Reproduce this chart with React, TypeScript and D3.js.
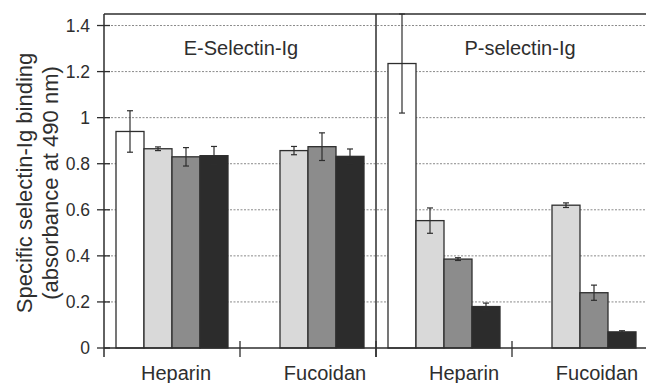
import React from "react";
import * as d3 from "d3";

const panels = ["E-Selectin-Ig", "P-selectin-Ig"];
const categories = ["Heparin", "Fucoidan", "Heparin", "Fucoidan"];
const seriesKeys = ["s1", "s2", "s3", "s4"];
const s1Values = [0.94, null, 1.235, null];
const s2Values = [0.865, 0.857, 0.553, 0.62];
const s3Values = [0.83, 0.874, 0.386, 0.24];
const s4Values = [0.835, 0.832, 0.18, 0.07];
const s1Err = [0.09, null, 0.215, null];
const s2Err = [0.008, 0.018, 0.055, 0.01];
const s3Err = [0.04, 0.06, 0.006, 0.033];
const s4Err = [0.04, 0.032, 0.015, 0.005];
const yTicks = [0, 0.2, 0.4, 0.6, 0.8, 1, 1.2, 1.4];
const yLabel1 = "Specific selectin-Ig binding";
const yLabel2 = "(absorbance at 490 nm)";

const W = 646;
const H = 383;
const FONT = "'Liberation Sans', Arial, Helvetica, sans-serif";
const INK = "#2e2e2e";
const fills = ["#ffffff", "#d9d9d9", "#8c8c8c", "#2c2c2c"];
const labelDx = [4, 17, 20, 17];

export default function App() {
  const values = [s1Values, s2Values, s3Values, s4Values];
  const errs = [s1Err, s2Err, s3Err, s4Err];
  const catIdx = categories.map((_, i) => i);

  const x = d3.scaleBand<number>().domain(catIdx).range([104, 648]).padding(0);
  const xInner = d3
    .scaleBand<string>()
    .domain(seriesKeys)
    .range([12, x.bandwidth() - 12])
    .padding(0);
  const y = d3.scaleLinear().domain([0, 1.45]).range([348, 14]);

  const x0 = 104;
  const xRight = 646;
  const yTop = y(1.45);
  const yBase = y(0);
  const divX = x(2)!;

  const bars: React.ReactNode[] = [];
  const errBars: React.ReactNode[] = [];
  values.forEach((arr, si) => {
    arr.forEach((v, ci) => {
      if (v == null) return;
      const bx = x(ci)! + xInner(seriesKeys[si])!;
      const bw = xInner.bandwidth();
      bars.push(
        <rect
          key={`b${si}-${ci}`}
          x={bx}
          y={y(v)}
          width={bw}
          height={yBase - y(v)}
          fill={fills[si]}
          stroke={INK}
          strokeWidth={1.3}
        />
      );
      const e = errs[si][ci];
      if (e != null) {
        const cx = bx + bw / 2;
        const t = y(Math.min(v + e, 1.45));
        const b = y(v - e);
        errBars.push(
          <g key={`e${si}-${ci}`} stroke={INK} strokeWidth={1.2}>
            <line x1={cx} x2={cx} y1={t} y2={b} />
            <line x1={cx - 3} x2={cx + 3} y1={t} y2={t} />
            <line x1={cx - 3} x2={cx + 3} y1={b} y2={b} />
          </g>
        );
      }
    });
  });

  return (
    <svg
      width={W}
      height={H}
      style={{ position: "absolute", left: 0, top: 0, background: "#fff" }}
      fontFamily={FONT}
    >
      <defs>
        <pattern id="pLight" width="3" height="3" patternUnits="userSpaceOnUse">
          <rect width="3" height="3" fill="#e2e2e2" />
          <rect width="1" height="1" fill="#b8b8b8" />
        </pattern>
        <pattern id="pMid" width="2" height="2" patternUnits="userSpaceOnUse">
          <rect width="2" height="2" fill="#9a9a9a" />
          <rect width="1" height="1" fill="#6e6e6e" />
          <rect x="1" y="1" width="1" height="1" fill="#6e6e6e" />
        </pattern>
      </defs>
      {/* gridlines */}
      {yTicks
        .filter((t) => t > 0)
        .map((t) => (
          <line
            key={`g${t}`}
            x1={x0}
            x2={xRight}
            y1={y(t)}
            y2={y(t)}
            stroke="#8a8a8a"
            strokeWidth={1}
            strokeDasharray="2,1.5"
          />
        ))}
      {/* frame top & divider */}
      <line x1={x0} x2={xRight} y1={yTop} y2={yTop} stroke={INK} strokeWidth={1.5} />
      <line x1={divX} x2={divX} y1={yTop} y2={yBase + 9} stroke={INK} strokeWidth={1.5} />
      {/* bars */}
      {bars}
      {errBars}
      {/* axes */}
      <line x1={x0} x2={x0} y1={yTop} y2={yBase + 9} stroke={INK} strokeWidth={1.5} />
      <line x1={x0} x2={xRight} y1={yBase} y2={yBase} stroke={INK} strokeWidth={1.5} />
      {catIdx.slice(1).map((ci) => (
        <line
          key={`xt${ci}`}
          x1={x(ci)!}
          x2={x(ci)!}
          y1={yBase - 7}
          y2={yBase + 9}
          stroke={INK}
          strokeWidth={1.3}
        />
      ))}
      {yTicks.map((t) => (
        <g key={`yt${t}`}>
          <line x1={x0 - 7} x2={x0 + 6} y1={y(t)} y2={y(t)} stroke={INK} strokeWidth={1.3} />
          <text
            x={90}
            y={y(t)}
            dy="0.35em"
            textAnchor="end"
            fontSize={17.5}
            fill={INK}
          >
            {String(t)}
          </text>
        </g>
      ))}
      {/* category labels */}
      {categories.map((c, ci) => (
        <text
          key={`cl${ci}`}
          x={x(ci)! + x.bandwidth() / 2 + labelDx[ci]}
          y={380}
          textAnchor="middle"
          fontSize={20}
          fill={INK}
        >
          {c}
        </text>
      ))}
      {/* panel titles */}
      {panels.map((p, pi) => (
        <text
          key={`pt${pi}`}
          x={pi === 0 ? 241 : 520}
          y={55}
          textAnchor="middle"
          fontSize={20}
          fill={INK}
        >
          {p}
        </text>
      ))}
      {/* y label */}
      <text
        transform="translate(32,183) rotate(-90)"
        textAnchor="middle"
        fontSize={22}
        fill={INK}
      >
        {yLabel1}
      </text>
      <text
        transform="translate(58,183) rotate(-90)"
        textAnchor="middle"
        fontSize={22}
        fill={INK}
      >
        {yLabel2}
      </text>
    </svg>
  );
}
